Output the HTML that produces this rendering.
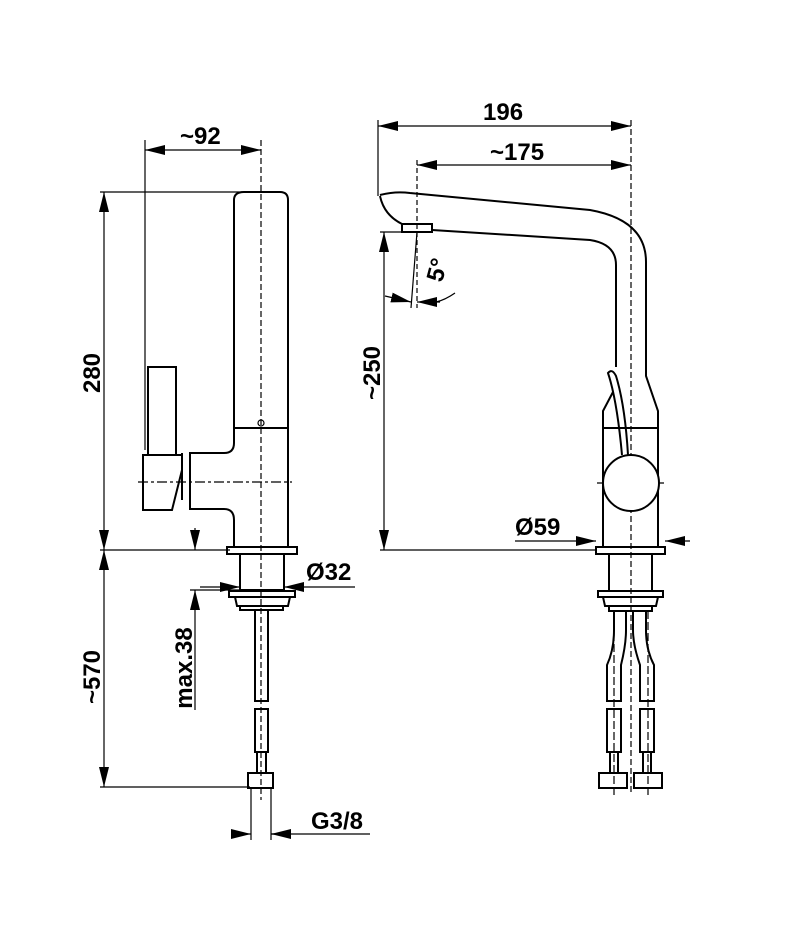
<!DOCTYPE html>
<html><head><meta charset="utf-8"><style>
html,body{margin:0;padding:0;background:#fff}
svg{display:block}
text{font-family:"Liberation Sans",Arial,sans-serif;font-weight:bold;font-size:24px;fill:#000}
</style></head><body>
<svg width="804" height="944" viewBox="0 0 804 944" xmlns="http://www.w3.org/2000/svg">
<defs>
<marker id="a" viewBox="0 0 20 10" refX="20" refY="5" markerWidth="20" markerHeight="10" markerUnits="userSpaceOnUse" orient="auto-start-reverse"><path d="M0,0 L20,5 L0,10 Z" fill="#000"/></marker>
</defs>
<g fill="none" stroke="#000" stroke-width="1.2">
<line x1="104" y1="192" x2="104" y2="550" marker-start="url(#a)" marker-end="url(#a)"/>
<line x1="104" y1="550" x2="104" y2="787" marker-start="url(#a)" marker-end="url(#a)"/>
<line x1="100" y1="192" x2="260" y2="192"/>
<line x1="100" y1="550" x2="230" y2="550"/>
<line x1="100" y1="787" x2="250" y2="787"/>
<line x1="145" y1="150" x2="261" y2="150" marker-start="url(#a)" marker-end="url(#a)"/>
<line x1="145" y1="140" x2="145" y2="450"/>
<line x1="195" y1="528" x2="195" y2="550" marker-end="url(#a)"/>
<line x1="195" y1="710" x2="195" y2="590" marker-end="url(#a)"/>
<line x1="190" y1="590" x2="240" y2="590"/>
<line x1="200" y1="587" x2="240" y2="587" marker-end="url(#a)"/>
<line x1="355" y1="587" x2="284" y2="587" marker-end="url(#a)"/>
<line x1="232" y1="834" x2="251" y2="834" marker-end="url(#a)"/>
<line x1="290" y1="834" x2="271" y2="834" marker-end="url(#a)"/>
<line x1="271" y1="834" x2="370" y2="834"/>
<line x1="251" y1="788" x2="251" y2="840"/><line x1="271" y1="788" x2="271" y2="840"/>
<g stroke-width="2">
<path d="M234,547 L234,520 Q234,509 224,509 L190,509 L190,453 L224,453 Q234,453 234,443 L234,200 Q234,192 244,192 L280,192 Q288,192 288,200 L288,547"/>
<line x1="234" y1="428" x2="288" y2="428"/>
<path d="M148,455 L148,367 L176,367 L176,455"/>
<path d="M143,455 L182,455 L182,470 L172,510 L143,510 Z"/>
<line x1="182" y1="453" x2="182" y2="500"/>
<rect x="227" y="547" width="70" height="7"/>
<rect x="240" y="554" width="44" height="36"/>
<rect x="229" y="591" width="66" height="6"/>
<path d="M235,597 L290,597 L288,606 L237,606 Z"/>
<rect x="240" y="606" width="43" height="4"/>
<rect x="255" y="610" width="13" height="91"/>
<rect x="255" y="709" width="13" height="43"/>
<rect x="257" y="752" width="9" height="21"/>
<rect x="248" y="773" width="25" height="15"/>
</g>
<circle cx="261" cy="423" r="3"/>
<line x1="261" y1="140" x2="261" y2="800" stroke-dasharray="6,3"/>
<line x1="138" y1="482" x2="292" y2="482" stroke-dasharray="10,3,3,3"/>

<line x1="378" y1="126" x2="631" y2="126" marker-start="url(#a)" marker-end="url(#a)"/>
<line x1="417" y1="165" x2="631" y2="165" marker-start="url(#a)" marker-end="url(#a)"/>
<line x1="378" y1="120" x2="378" y2="196"/>
<line x1="417" y1="160" x2="417" y2="308" stroke-dasharray="5,3"/>
<line x1="384" y1="232" x2="384" y2="550" marker-start="url(#a)" marker-end="url(#a)"/>
<line x1="380" y1="232" x2="420" y2="232"/>
<line x1="380" y1="550" x2="596" y2="550"/>
<line x1="515" y1="541" x2="596" y2="541" marker-end="url(#a)"/>
<line x1="690" y1="541" x2="665" y2="541" marker-end="url(#a)"/>
<line x1="417" y1="232" x2="411" y2="308"/>
<line x1="385" y1="296" x2="411" y2="302" marker-end="url(#a)"/>
<path d="M455,293 Q445,300 436,302"/>
<line x1="440" y1="302" x2="417" y2="302" marker-end="url(#a)"/>
<line x1="631" y1="120" x2="631" y2="795" stroke-dasharray="6,3"/>
<line x1="597" y1="483" x2="667" y2="483" stroke-dasharray="10,3,3,3"/>
<g stroke-width="2">
<path d="M380,195 Q395,191 410,193 L590,210 Q646,220 646,262 L646,376 L658,411 L658,547"/>
<path d="M380,196 Q384,215 402,224"/>
<path d="M432,230 L590,240 Q616,244 616,265 L616,367"/>
<path d="M613,392 L603,411 L603,547"/>
<line x1="603" y1="428" x2="658" y2="428"/>
<path d="M628,455 Q625,405 616,376 Q612,368 608,373 Q617,400 622,455"/>
<circle cx="631" cy="483" r="28" fill="#fff"/>
<rect x="402" y="224" width="30" height="8"/>
<rect x="596" y="547" width="69" height="7"/>
<rect x="609" y="554" width="43" height="37"/>
<rect x="598" y="591" width="65" height="6"/>
<path d="M603,597 L658,597 L656,606 L605,606 Z"/>
<rect x="609" y="606" width="43" height="5"/>
<path d="M614,611 L614,630 Q614,650 607,665 L607,701 L621,701 L621,665 Q626,645 626,630 L626,611"/>
<path d="M633,611 L633,630 Q633,645 640,665 L640,701 L654,701 L654,665 Q646,650 646,630 L646,611"/>
<rect x="607" y="709" width="14" height="43"/><rect x="640" y="709" width="14" height="43"/>
<rect x="610" y="752" width="8" height="21"/><rect x="643" y="752" width="8" height="21"/>
<rect x="599" y="773" width="28" height="15"/><rect x="634" y="773" width="28" height="15"/>
</g>
<line x1="614" y1="611" x2="614" y2="795" stroke-dasharray="8,3"/>
<line x1="648" y1="611" x2="648" y2="795" stroke-dasharray="8,3"/>
</g>
<text x="180" y="144">~92</text>
<text x="483" y="120">196</text>
<text x="490" y="160">~175</text>
<text x="306" y="580">Ø32</text>
<text x="515" y="535">Ø59</text>
<text x="311" y="829">G3/8</text>
<text transform="translate(100,373) rotate(-90)" text-anchor="middle">280</text>
<text transform="translate(100,677) rotate(-90)" text-anchor="middle">~570</text>
<text transform="translate(192,668) rotate(-90)" text-anchor="middle">max.38</text>
<text transform="translate(380,373) rotate(-90)" text-anchor="middle">~250</text>
<text transform="translate(445,272) rotate(-75)" text-anchor="middle">5°</text>
</svg>
</body></html>
